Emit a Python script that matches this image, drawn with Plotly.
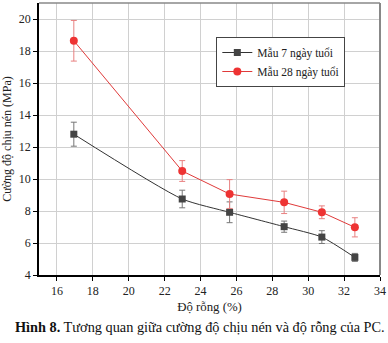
import plotly.graph_objects as go

porosity_7 = [16.94, 22.98, 25.62, 28.66, 30.76, 32.6]
strength_7 = [12.8, 8.75, 7.92, 7.02, 6.37, 5.1]
err_7 = [0.75, 0.55, 0.65, 0.35, 0.4, 0.25]

porosity_28 = [16.94, 22.98, 25.62, 28.66, 30.76, 32.6]
strength_28 = [18.64, 10.5, 9.06, 8.54, 7.92, 6.98]
err_28 = [1.27, 0.65, 0.9, 0.7, 0.4, 0.6]

x_ticks = [16, 18, 20, 22, 24, 26, 28, 30, 32, 34]
y_ticks = [4, 6, 8, 10, 12, 14, 16, 18, 20]

SERIF = "Times New Roman, Liberation Serif, serif"

fig = go.Figure()
fig.add_trace(go.Scatter(
    x=porosity_7, y=strength_7, name="Mẫu 7 ngày tuổi",
    mode="lines+markers",
    line=dict(color="#333333", width=1, shape="spline", smoothing=0.6),
    marker=dict(symbol="square", size=7, color="#444444"),
    error_y=dict(type="data", array=err_7, color="#777777", thickness=1, width=3),
))
fig.add_trace(go.Scatter(
    x=porosity_28, y=strength_28, name="Mẫu 28 ngày tuổi",
    mode="lines+markers",
    line=dict(color="#e03a3a", width=1),
    marker=dict(symbol="circle", size=8, color="#ee3333"),
    error_y=dict(type="data", array=err_28, color="#e88080", thickness=1, width=3),
))

fig.update_layout(
    width=388, height=343,
    margin=dict(l=39, r=8, t=3, b=68),
    paper_bgcolor="white", plot_bgcolor="white",
    font=dict(family=SERIF, size=12, color="#222222"),
    showlegend=True,
    legend=dict(x=0.52, y=0.875, xanchor="left", yanchor="top",
                bgcolor="white", bordercolor="#444444", borderwidth=1,
                font=dict(family=SERIF, size=11.5), tracegroupgap=0,
                itemwidth=30),
    xaxis=dict(range=[15, 34], tickvals=x_ticks, showgrid=True, gridcolor="#d0d0d0",
               gridwidth=1, showline=True, linecolor="black", linewidth=1.5,
               ticks="outside", ticklen=4, tickcolor="black", zeroline=False,
               title=dict(text="Độ rỗng (%)", font=dict(family=SERIF, size=12.8), standoff=5)),
    yaxis=dict(range=[4, 21], tickvals=y_ticks, showgrid=True, gridcolor="#d0d0d0",
               gridwidth=1, showline=True, linecolor="black", linewidth=1.5,
               ticks="outside", ticklen=4, tickcolor="black", zeroline=False,
               title=dict(text="Cường độ chịu nén (MPa)", font=dict(family=SERIF, size=12), standoff=6)),
)
# top/right frame
fig.add_shape(type="line", xref="paper", yref="paper", x0=0, x1=1, y0=1, y1=1,
              line=dict(color="#888888", width=1.5))
fig.add_shape(type="line", xref="paper", yref="paper", x0=1, x1=1, y0=0, y1=1,
              line=dict(color="#888888", width=2))

fig.add_annotation(
    xref="paper", yref="paper", x=-0.075, y=-0.155, xanchor="left", yanchor="top",
    showarrow=False, align="left",
    text="<b>Hình 8.</b> Tương quan giữa cường độ chịu nén và độ rỗng của PC.",
    font=dict(family=SERIF, size=14.3, color="#111111"),
)

fig.write_html("out.html")
